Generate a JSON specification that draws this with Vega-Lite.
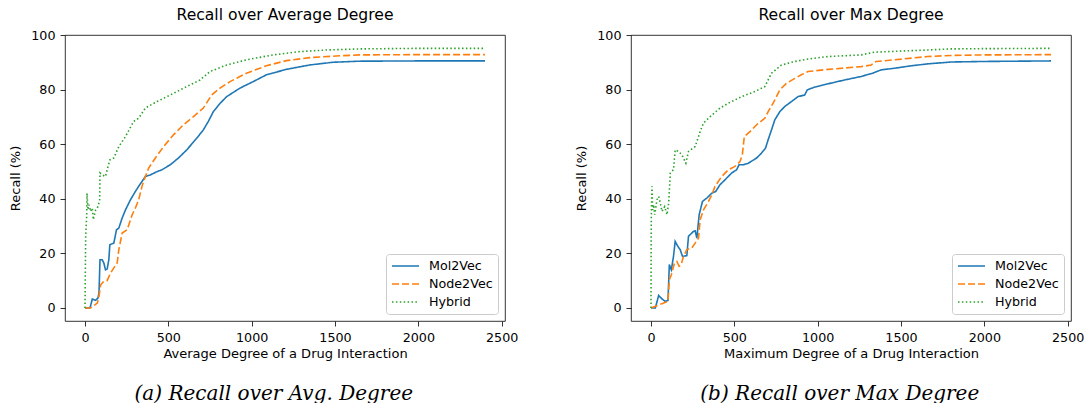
{
  "$schema": "https://vega.github.io/schema/vega-lite/v6.json",
  "padding": {"left": 9, "top": 7, "right": 2, "bottom": 2},
  "background": "white",
  "datasets": {
    "avg": [
      {"degree":0,"recall":0,"model":"Mol2Vec"},{"degree":30,"recall":0,"model":"Mol2Vec"},{"degree":44,"recall":3.3,"model":"Mol2Vec"},{"degree":64,"recall":2.8,"model":"Mol2Vec"},{"degree":78,"recall":3.7,"model":"Mol2Vec"},{"degree":84,"recall":5.5,"model":"Mol2Vec"},{"degree":90,"recall":17.7,"model":"Mol2Vec"},{"degree":103,"recall":17.7,"model":"Mol2Vec"},{"degree":113,"recall":16.5,"model":"Mol2Vec"},{"degree":123,"recall":14,"model":"Mol2Vec"},{"degree":133,"recall":14.3,"model":"Mol2Vec"},{"degree":143,"recall":17.7,"model":"Mol2Vec"},{"degree":149,"recall":23.2,"model":"Mol2Vec"},{"degree":173,"recall":23.8,"model":"Mol2Vec"},{"degree":189,"recall":28.7,"model":"Mol2Vec"},{"degree":203,"recall":29.3,"model":"Mol2Vec"},{"degree":223,"recall":33,"model":"Mol2Vec"},{"degree":243,"recall":36,"model":"Mol2Vec"},{"degree":273,"recall":39.7,"model":"Mol2Vec"},{"degree":302,"recall":42.7,"model":"Mol2Vec"},{"degree":322,"recall":44.6,"model":"Mol2Vec"},{"degree":342,"recall":46.4,"model":"Mol2Vec"},{"degree":362,"recall":48.2,"model":"Mol2Vec"},{"degree":392,"recall":48.8,"model":"Mol2Vec"},{"degree":432,"recall":50,"model":"Mol2Vec"},{"degree":462,"recall":50.7,"model":"Mol2Vec"},{"degree":511,"recall":52.5,"model":"Mol2Vec"},{"degree":561,"recall":55,"model":"Mol2Vec"},{"degree":611,"recall":58,"model":"Mol2Vec"},{"degree":671,"recall":62.3,"model":"Mol2Vec"},{"degree":710,"recall":65.3,"model":"Mol2Vec"},{"degree":740,"recall":68.4,"model":"Mol2Vec"},{"degree":770,"recall":72,"model":"Mol2Vec"},{"degree":810,"recall":75,"model":"Mol2Vec"},{"degree":850,"recall":77.5,"model":"Mol2Vec"},{"degree":929,"recall":80.6,"model":"Mol2Vec"},{"degree":1009,"recall":83,"model":"Mol2Vec"},{"degree":1088,"recall":85.5,"model":"Mol2Vec"},{"degree":1208,"recall":87.5,"model":"Mol2Vec"},{"degree":1347,"recall":89.1,"model":"Mol2Vec"},{"degree":1486,"recall":90.1,"model":"Mol2Vec"},{"degree":1645,"recall":90.5,"model":"Mol2Vec"},{"degree":2000,"recall":90.6,"model":"Mol2Vec"},{"degree":2400,"recall":90.6,"model":"Mol2Vec"},
      {"degree":0,"recall":0,"model":"Node2Vec"},{"degree":34,"recall":0,"model":"Node2Vec"},{"degree":54,"recall":0.9,"model":"Node2Vec"},{"degree":74,"recall":1.8,"model":"Node2Vec"},{"degree":84,"recall":4.3,"model":"Node2Vec"},{"degree":94,"recall":8.5,"model":"Node2Vec"},{"degree":113,"recall":9.8,"model":"Node2Vec"},{"degree":133,"recall":10.1,"model":"Node2Vec"},{"degree":153,"recall":12.8,"model":"Node2Vec"},{"degree":173,"recall":14.7,"model":"Node2Vec"},{"degree":193,"recall":16.5,"model":"Node2Vec"},{"degree":203,"recall":21.4,"model":"Node2Vec"},{"degree":223,"recall":27.5,"model":"Node2Vec"},{"degree":253,"recall":28.7,"model":"Node2Vec"},{"degree":283,"recall":34.2,"model":"Node2Vec"},{"degree":302,"recall":36.6,"model":"Node2Vec"},{"degree":322,"recall":39.7,"model":"Node2Vec"},{"degree":342,"recall":44.6,"model":"Node2Vec"},{"degree":362,"recall":48.2,"model":"Node2Vec"},{"degree":382,"recall":51.3,"model":"Node2Vec"},{"degree":422,"recall":55,"model":"Node2Vec"},{"degree":472,"recall":59.2,"model":"Node2Vec"},{"degree":531,"recall":63.5,"model":"Node2Vec"},{"degree":591,"recall":67.2,"model":"Node2Vec"},{"degree":651,"recall":70.2,"model":"Node2Vec"},{"degree":710,"recall":73.3,"model":"Node2Vec"},{"degree":760,"recall":78.1,"model":"Node2Vec"},{"degree":810,"recall":80.6,"model":"Node2Vec"},{"degree":870,"recall":83,"model":"Node2Vec"},{"degree":969,"recall":86.1,"model":"Node2Vec"},{"degree":1088,"recall":88.8,"model":"Node2Vec"},{"degree":1208,"recall":90.7,"model":"Node2Vec"},{"degree":1347,"recall":91.8,"model":"Node2Vec"},{"degree":1506,"recall":92.4,"model":"Node2Vec"},{"degree":1645,"recall":92.8,"model":"Node2Vec"},{"degree":2000,"recall":92.9,"model":"Node2Vec"},{"degree":2400,"recall":92.9,"model":"Node2Vec"},
      {"degree":0,"recall":0,"model":"Hybrid"},{"degree":4,"recall":26.3,"model":"Hybrid"},{"degree":10,"recall":33.6,"model":"Hybrid"},{"degree":12,"recall":42.1,"model":"Hybrid"},{"degree":18,"recall":36,"model":"Hybrid"},{"degree":24,"recall":37.9,"model":"Hybrid"},{"degree":34,"recall":35.4,"model":"Hybrid"},{"degree":44,"recall":36.6,"model":"Hybrid"},{"degree":50,"recall":32.4,"model":"Hybrid"},{"degree":64,"recall":36,"model":"Hybrid"},{"degree":78,"recall":37.2,"model":"Hybrid"},{"degree":88,"recall":39.7,"model":"Hybrid"},{"degree":90,"recall":49.5,"model":"Hybrid"},{"degree":103,"recall":48.8,"model":"Hybrid"},{"degree":123,"recall":48.2,"model":"Hybrid"},{"degree":133,"recall":50.7,"model":"Hybrid"},{"degree":149,"recall":54.3,"model":"Hybrid"},{"degree":173,"recall":55,"model":"Hybrid"},{"degree":203,"recall":59.2,"model":"Hybrid"},{"degree":243,"recall":62.9,"model":"Hybrid"},{"degree":292,"recall":68.4,"model":"Hybrid"},{"degree":322,"recall":69.6,"model":"Hybrid"},{"degree":362,"recall":73.3,"model":"Hybrid"},{"degree":432,"recall":75.7,"model":"Hybrid"},{"degree":511,"recall":78.1,"model":"Hybrid"},{"degree":611,"recall":81.2,"model":"Hybrid"},{"degree":690,"recall":83.6,"model":"Hybrid"},{"degree":750,"recall":86.7,"model":"Hybrid"},{"degree":850,"recall":89.1,"model":"Hybrid"},{"degree":969,"recall":91,"model":"Hybrid"},{"degree":1128,"recall":92.8,"model":"Hybrid"},{"degree":1287,"recall":94,"model":"Hybrid"},{"degree":1447,"recall":94.6,"model":"Hybrid"},{"degree":1645,"recall":95,"model":"Hybrid"},{"degree":2000,"recall":95.2,"model":"Hybrid"},{"degree":2400,"recall":95.2,"model":"Hybrid"}
    ],
    "max": [
      {"degree":0,"recall":0,"model":"Mol2Vec"},{"degree":26,"recall":0,"model":"Mol2Vec"},{"degree":46,"recall":4.6,"model":"Mol2Vec"},{"degree":66,"recall":3.3,"model":"Mol2Vec"},{"degree":86,"recall":2.4,"model":"Mol2Vec"},{"degree":102,"recall":2.8,"model":"Mol2Vec"},{"degree":110,"recall":15.9,"model":"Mol2Vec"},{"degree":122,"recall":14,"model":"Mol2Vec"},{"degree":135,"recall":18.9,"model":"Mol2Vec"},{"degree":145,"recall":24.4,"model":"Mol2Vec"},{"degree":161,"recall":22.6,"model":"Mol2Vec"},{"degree":175,"recall":21.4,"model":"Mol2Vec"},{"degree":189,"recall":18.9,"model":"Mol2Vec"},{"degree":215,"recall":19.2,"model":"Mol2Vec"},{"degree":225,"recall":26.3,"model":"Mol2Vec"},{"degree":255,"recall":28.1,"model":"Mol2Vec"},{"degree":265,"recall":28.3,"model":"Mol2Vec"},{"degree":275,"recall":25.6,"model":"Mol2Vec"},{"degree":289,"recall":34.2,"model":"Mol2Vec"},{"degree":309,"recall":39.1,"model":"Mol2Vec"},{"degree":335,"recall":40.3,"model":"Mol2Vec"},{"degree":365,"recall":42.1,"model":"Mol2Vec"},{"degree":388,"recall":42.7,"model":"Mol2Vec"},{"degree":414,"recall":45.2,"model":"Mol2Vec"},{"degree":444,"recall":47,"model":"Mol2Vec"},{"degree":484,"recall":49.5,"model":"Mol2Vec"},{"degree":514,"recall":50.7,"model":"Mol2Vec"},{"degree":528,"recall":52.5,"model":"Mol2Vec"},{"degree":554,"recall":52.5,"model":"Mol2Vec"},{"degree":584,"recall":53.1,"model":"Mol2Vec"},{"degree":634,"recall":55,"model":"Mol2Vec"},{"degree":663,"recall":56.8,"model":"Mol2Vec"},{"degree":687,"recall":58.6,"model":"Mol2Vec"},{"degree":703,"recall":61.7,"model":"Mol2Vec"},{"degree":723,"recall":65.3,"model":"Mol2Vec"},{"degree":743,"recall":69,"model":"Mol2Vec"},{"degree":773,"recall":72,"model":"Mol2Vec"},{"degree":803,"recall":73.9,"model":"Mol2Vec"},{"degree":843,"recall":75.7,"model":"Mol2Vec"},{"degree":882,"recall":77.5,"model":"Mol2Vec"},{"degree":922,"recall":78.1,"model":"Mol2Vec"},{"degree":938,"recall":80,"model":"Mol2Vec"},{"degree":982,"recall":81,"model":"Mol2Vec"},{"degree":1062,"recall":82.2,"model":"Mol2Vec"},{"degree":1161,"recall":83.6,"model":"Mol2Vec"},{"degree":1261,"recall":84.9,"model":"Mol2Vec"},{"degree":1331,"recall":86.1,"model":"Mol2Vec"},{"degree":1380,"recall":87.3,"model":"Mol2Vec"},{"degree":1460,"recall":87.9,"model":"Mol2Vec"},{"degree":1560,"recall":88.8,"model":"Mol2Vec"},{"degree":1659,"recall":89.5,"model":"Mol2Vec"},{"degree":1800,"recall":90.2,"model":"Mol2Vec"},{"degree":2000,"recall":90.4,"model":"Mol2Vec"},{"degree":2400,"recall":90.6,"model":"Mol2Vec"},
      {"degree":0,"recall":0,"model":"Node2Vec"},{"degree":26,"recall":0.6,"model":"Node2Vec"},{"degree":66,"recall":1.6,"model":"Node2Vec"},{"degree":102,"recall":2.4,"model":"Node2Vec"},{"degree":110,"recall":10.4,"model":"Node2Vec"},{"degree":122,"recall":12.2,"model":"Node2Vec"},{"degree":141,"recall":16.5,"model":"Node2Vec"},{"degree":155,"recall":17.1,"model":"Node2Vec"},{"degree":169,"recall":15.3,"model":"Node2Vec"},{"degree":181,"recall":15.9,"model":"Node2Vec"},{"degree":195,"recall":18.9,"model":"Node2Vec"},{"degree":215,"recall":21.4,"model":"Node2Vec"},{"degree":245,"recall":22,"model":"Node2Vec"},{"degree":265,"recall":23.8,"model":"Node2Vec"},{"degree":285,"recall":25.6,"model":"Node2Vec"},{"degree":295,"recall":32.4,"model":"Node2Vec"},{"degree":315,"recall":36,"model":"Node2Vec"},{"degree":345,"recall":39.1,"model":"Node2Vec"},{"degree":365,"recall":41.5,"model":"Node2Vec"},{"degree":384,"recall":44.6,"model":"Node2Vec"},{"degree":424,"recall":48.2,"model":"Node2Vec"},{"degree":464,"recall":50.7,"model":"Node2Vec"},{"degree":504,"recall":51.9,"model":"Node2Vec"},{"degree":534,"recall":53.7,"model":"Node2Vec"},{"degree":548,"recall":56.2,"model":"Node2Vec"},{"degree":560,"recall":62.9,"model":"Node2Vec"},{"degree":594,"recall":64.7,"model":"Node2Vec"},{"degree":634,"recall":67.2,"model":"Node2Vec"},{"degree":683,"recall":69.6,"model":"Node2Vec"},{"degree":703,"recall":72,"model":"Node2Vec"},{"degree":733,"recall":75.1,"model":"Node2Vec"},{"degree":773,"recall":80,"model":"Node2Vec"},{"degree":813,"recall":82.4,"model":"Node2Vec"},{"degree":863,"recall":84.2,"model":"Node2Vec"},{"degree":902,"recall":85.5,"model":"Node2Vec"},{"degree":942,"recall":86.7,"model":"Node2Vec"},{"degree":1062,"recall":87.5,"model":"Node2Vec"},{"degree":1261,"recall":88.5,"model":"Node2Vec"},{"degree":1321,"recall":89.1,"model":"Node2Vec"},{"degree":1351,"recall":90.4,"model":"Node2Vec"},{"degree":1460,"recall":91,"model":"Node2Vec"},{"degree":1659,"recall":92.2,"model":"Node2Vec"},{"degree":1800,"recall":92.6,"model":"Node2Vec"},{"degree":2000,"recall":92.8,"model":"Node2Vec"},{"degree":2400,"recall":92.9,"model":"Node2Vec"},
      {"degree":0,"recall":0,"model":"Hybrid"},{"degree":1,"recall":26.3,"model":"Hybrid"},{"degree":2,"recall":33.6,"model":"Hybrid"},{"degree":6,"recall":44.6,"model":"Hybrid"},{"degree":10,"recall":36,"model":"Hybrid"},{"degree":16,"recall":37.9,"model":"Hybrid"},{"degree":22,"recall":34.2,"model":"Hybrid"},{"degree":36,"recall":39.7,"model":"Hybrid"},{"degree":46,"recall":40.9,"model":"Hybrid"},{"degree":56,"recall":38.5,"model":"Hybrid"},{"degree":66,"recall":35.4,"model":"Hybrid"},{"degree":82,"recall":37.2,"model":"Hybrid"},{"degree":96,"recall":34.2,"model":"Hybrid"},{"degree":106,"recall":38.5,"model":"Hybrid"},{"degree":116,"recall":49.5,"model":"Hybrid"},{"degree":135,"recall":50.7,"model":"Hybrid"},{"degree":145,"recall":58,"model":"Hybrid"},{"degree":165,"recall":57.4,"model":"Hybrid"},{"degree":185,"recall":56.2,"model":"Hybrid"},{"degree":209,"recall":53.1,"model":"Hybrid"},{"degree":225,"recall":57.4,"model":"Hybrid"},{"degree":265,"recall":59.2,"model":"Hybrid"},{"degree":295,"recall":64.7,"model":"Hybrid"},{"degree":315,"recall":67.8,"model":"Hybrid"},{"degree":355,"recall":70.2,"model":"Hybrid"},{"degree":414,"recall":73.3,"model":"Hybrid"},{"degree":464,"recall":75.1,"model":"Hybrid"},{"degree":544,"recall":77.5,"model":"Hybrid"},{"degree":624,"recall":79.4,"model":"Hybrid"},{"degree":683,"recall":81.2,"model":"Hybrid"},{"degree":723,"recall":86.1,"model":"Hybrid"},{"degree":783,"recall":89.1,"model":"Hybrid"},{"degree":863,"recall":90.4,"model":"Hybrid"},{"degree":942,"recall":91.3,"model":"Hybrid"},{"degree":1062,"recall":92.2,"model":"Hybrid"},{"degree":1261,"recall":92.8,"model":"Hybrid"},{"degree":1341,"recall":93.8,"model":"Hybrid"},{"degree":1460,"recall":94.1,"model":"Hybrid"},{"degree":1659,"recall":94.6,"model":"Hybrid"},{"degree":1800,"recall":95,"model":"Hybrid"},{"degree":2000,"recall":95.1,"model":"Hybrid"},{"degree":2400,"recall":95.2,"model":"Hybrid"}
    ]
  },
  "hconcat": [
    {
      "title": {"text": "(a) Recall over Avg. Degree", "orient": "bottom", "anchor": "middle", "font": "DejaVu Serif", "fontStyle": "italic", "fontWeight": "normal", "fontSize": 20, "color": "black", "offset": 23, "dx": 10},
      "vconcat": [
        {
          "title": "Recall over Average Degree",
          "width": 440,
          "height": 286,
          "data": {"name": "avg"},
          "mark": {"type": "line", "strokeWidth": 1.6},
          "encoding": {
            "x": {"field": "degree", "type": "quantitative", "scale": {"domain": [-120, 2520], "nice": false, "zero": false}, "axis": {"values": [0, 500, 1000, 1500, 2000, 2500], "format": "d", "title": "Average Degree of a Drug Interaction"}},
            "y": {"field": "recall", "type": "quantitative", "scale": {"domain": [-4.77, 100.1], "nice": false, "zero": false}, "axis": {"values": [0, 20, 40, 60, 80, 100], "format": "d", "title": "Recall (%)"}},
            "color": {"field": "model", "type": "nominal", "scale": {"domain": ["Mol2Vec", "Node2Vec", "Hybrid"], "range": ["#1f77b4", "#ff7f0e", "#2ca02c"]}, "legend": {"title": null, "symbolType": "M-1,0H3.5"}},
            "strokeDash": {"field": "model", "type": "nominal", "scale": {"domain": ["Mol2Vec", "Node2Vec", "Hybrid"], "range": [[1, 0], [7, 3], [1.5, 2.4]]}, "legend": {"title": null, "symbolType": "M-1,0H3.5"}}
          }
        }
      ],
      "resolve": {"legend": {"color": "independent", "strokeDash": "independent"}}
    },
    {
      "title": {"text": "(b) Recall over Max Degree", "orient": "bottom", "anchor": "middle", "font": "DejaVu Serif", "fontStyle": "italic", "fontWeight": "normal", "fontSize": 20, "color": "black", "offset": 23, "dx": 10},
      "vconcat": [
        {
          "title": "Recall over Max Degree",
          "width": 440,
          "height": 286,
          "data": {"name": "max"},
          "mark": {"type": "line", "strokeWidth": 1.6},
          "encoding": {
            "x": {"field": "degree", "type": "quantitative", "scale": {"domain": [-120, 2520], "nice": false, "zero": false}, "axis": {"values": [0, 500, 1000, 1500, 2000, 2500], "format": "d", "title": "Maximum Degree of a Drug Interaction"}},
            "y": {"field": "recall", "type": "quantitative", "scale": {"domain": [-4.77, 100.1], "nice": false, "zero": false}, "axis": {"values": [0, 20, 40, 60, 80, 100], "format": "d", "title": "Recall (%)"}},
            "color": {"field": "model", "type": "nominal", "scale": {"domain": ["Mol2Vec", "Node2Vec", "Hybrid"], "range": ["#1f77b4", "#ff7f0e", "#2ca02c"]}, "legend": {"title": null, "symbolType": "M-1,0H3.5"}},
            "strokeDash": {"field": "model", "type": "nominal", "scale": {"domain": ["Mol2Vec", "Node2Vec", "Hybrid"], "range": [[1, 0], [7, 3], [1.5, 2.4]]}, "legend": {"title": null, "symbolType": "M-1,0H3.5"}}
          }
        }
      ],
      "resolve": {"legend": {"color": "independent", "strokeDash": "independent"}}
    }
  ],
  "spacing": 56,
  "resolve": {"legend": {"color": "independent", "strokeDash": "independent"}, "scale": {"color": "independent", "strokeDash": "independent"}},
  "config": {
    "view": {"stroke": "black", "strokeWidth": 0.8},
    "axis": {"domain": false, "grid": false, "tickColor": "black", "tickWidth": 0.8, "tickSize": 5, "labelFont": "DejaVu Sans", "labelFontSize": 12.7, "labelColor": "black", "labelPadding": 5, "labelFlush": false, "titleFont": "DejaVu Sans", "titleFontSize": 13, "titleFontWeight": "normal", "titleColor": "black"},
    "axisX": {"titlePadding": 4},
    "axisY": {"titlePadding": 8},
    "title": {"font": "DejaVu Sans", "fontSize": 15.6, "fontWeight": "normal", "color": "black", "offset": 6},
    "legend": {"orient": "bottom-right", "offset": 7, "strokeColor": "#cccccc", "fillColor": "white", "padding": 5, "cornerRadius": 3, "labelFont": "DejaVu Sans", "labelFontSize": 12.7, "labelColor": "black", "symbolSize": 144, "symbolStrokeWidth": 1.6, "labelOffset": 24, "rowPadding": 4}
  }
}
